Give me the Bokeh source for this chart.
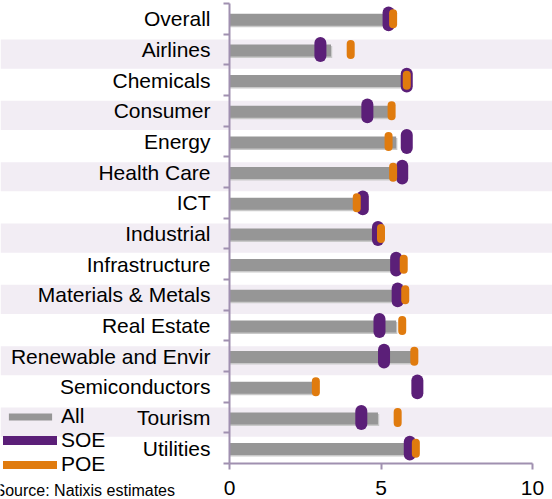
from bokeh.plotting import figure
from bokeh.models import ColumnDataSource, Range1d, FixedTicker, Legend, LegendItem, Label
from bokeh.transform import dodge
from bokeh.embed import file_html
from bokeh.resources import INLINE

# ---- data -------------------------------------------------------------
categories = ["Overall", "Airlines", "Chemicals", "Consumer", "Energy", "Health Care",
              "ICT", "Industrial", "Infrastructure", "Materials & Metals", "Real Estate",
              "Renewable and Envir", "Semiconductors", "Tourism", "Utilities"]
all_scores = [5.1, 3.35, 5.7, 5.25, 5.5, 5.3, 4.15, 4.75, 5.35, 5.4, 5.5, 6.0, 2.75, 4.9, 5.85]
soe_scores = [5.25, 3.0, 5.85, 4.55, 5.85, 5.7, 4.4, 4.9, 5.5, 5.55, 4.95, 5.1, 6.2, 4.35, 5.95]
poe_scores = [5.4, 4.0, 5.85, 5.35, 5.25, 5.4, 4.2, 5.0, 5.75, 5.8, 5.7, 6.1, 2.85, 5.55, 6.15]
x_ticks = [0, 5, 10]
source_note = "Source: Natixis estimates"

# ---- layout constants (pixels) ---------------------------------------
W, H = 552, 499
ZERO_PX = 229          # canvas x of value 0
PX_PER_UNIT = 30.3
ROWS_TOP_PX = 3        # canvas y of the first row's upper edge
ROWS_BOTTOM_PX = 463   # canvas y of the value axis

GRAY, SHADOW = "#969696", "#c9c9c9"
PURPLE, ORANGE = "#5b1f78", "#e07b0e"
STRIPE = "#f2edf4"
AXIS = "#a090b0"
FONT = "Liberation Sans"

n = len(categories)
rows = list(range(n))
row_px = (ROWS_BOTTOM_PX - ROWS_TOP_PX) / n
x_start = -ZERO_PX / PX_PER_UNIT
x_end = (W - ZERO_PX) / PX_PER_UNIT
y_top = -0.5 - ROWS_TOP_PX / row_px
y_bottom = n - 0.5 + (H - ROWS_BOTTOM_PX) / row_px

src = ColumnDataSource(dict(row=rows, all=all_scores, soe=soe_scores, poe=poe_scores))
stripe_rows = rows[1::2]
stripes = ColumnDataSource(dict(row=stripe_rows,
                                left=[x_start] * len(stripe_rows),
                                right=[x_end] * len(stripe_rows)))

# the plotting frame covers the whole canvas; both axes are pinned inside it
p = figure(width=W, height=H, output_backend="svg", toolbar_location=None,
           x_range=Range1d(x_start, x_end), y_range=Range1d(y_bottom, y_top),
           min_border=0)
p.outline_line_color = None
p.xgrid.visible = False
p.ygrid.visible = False
p.background_fill_color = "white"
p.border_fill_color = "white"

# alternating row bands
p.hbar(y=dodge("row", 0.15), left="left", right="right", height=0.95,
       fill_color=STRIPE, line_color=None, source=stripes)

# "All" bars with a soft shadow
p.hbar(y=dodge("row", 0.08), left=0, right=dodge("all", 0.04), height=0.39,
       fill_color=SHADOW, line_color=None, source=src)
bars = p.hbar(y=dodge("row", 0.03), left=0, right="all", height=0.39,
              fill_color=GRAY, line_color=None, source=src)

# SOE / POE markers: short vertical strokes with rounded caps
soe_r = p.segment(x0="soe", x1="soe", y0=dodge("row", -0.21), y1=dodge("row", 0.21),
                  line_color=PURPLE, line_width=12, line_cap="round", source=src)
poe_r = p.segment(x0="poe", x1="poe", y0=dodge("row", -0.18), y1=dodge("row", 0.18),
                  line_color=ORANGE, line_width=8, line_cap="round", source=src)

# category axis sits at x = 0, ticks mark row boundaries
ya = p.yaxis[0]
ya.fixed_location = 0
ya.bounds = (-0.5, n - 0.5)
ya.ticker = FixedTicker(ticks=rows, minor_ticks=[r - 0.5 for r in rows] + [n - 0.5])
ya.major_label_overrides = {i: c for i, c in enumerate(categories)}
ya.major_tick_in = 0
ya.major_tick_out = 0
ya.minor_tick_in = 0
ya.minor_tick_out = 6
ya.minor_tick_line_color = AXIS
ya.minor_tick_line_width = 2
ya.axis_line_color = AXIS
ya.axis_line_width = 2
ya.major_label_standoff = 13
ya.major_label_text_font = FONT
ya.major_label_text_font_size = "21px"
ya.major_label_text_color = "black"

# value axis along the bottom of the rows
xa = p.xaxis[0]
xa.fixed_location = n - 0.5
xa.ticker = FixedTicker(ticks=x_ticks)
xa.bounds = (min(x_ticks), max(x_ticks))
xa.axis_line_color = AXIS
xa.axis_line_width = 2
xa.major_tick_line_color = AXIS
xa.major_tick_line_width = 2
xa.major_tick_in = 0
xa.major_tick_out = 6
xa.minor_tick_line_color = None
xa.major_label_standoff = 11
xa.major_label_text_font = FONT
xa.major_label_text_font_size = "21px"
xa.major_label_text_color = "black"

legend = Legend(items=[LegendItem(label="All", renderers=[bars]),
                       LegendItem(label="SOE", renderers=[soe_r]),
                       LegendItem(label="POE", renderers=[poe_r])],
                location=(3, 23), orientation="vertical",
                background_fill_alpha=0, border_line_color=None,
                padding=0, margin=0, spacing=-4,
                glyph_width=54, glyph_height=9, label_height=22, label_standoff=4,
                label_text_font=FONT, label_text_font_size="21px", label_text_color="black")
p.add_layout(legend, "center")

note_y = -0.5 + (490 - ROWS_TOP_PX) / row_px
p.add_layout(Label(x=x_start - 6 / PX_PER_UNIT, y=note_y, text=source_note,
                   text_font=FONT, text_font_size="16px", text_color="black",
                   text_baseline="middle", text_align="left"))

open("out.html", "w").write(file_html(p, INLINE))
